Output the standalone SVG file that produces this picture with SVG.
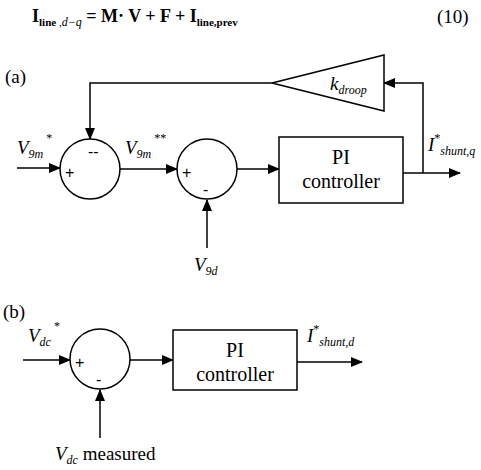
<svg xmlns="http://www.w3.org/2000/svg" width="481" height="470" viewBox="0 0 481 470" font-family="'Liberation Serif','Times New Roman',serif">
<style>
text{font-family:"Liberation Serif","Times New Roman",serif;fill:#000}
.ln{stroke:#000;stroke-width:1.5;fill:none}
.blk{stroke:#000;stroke-width:1.5;fill:#fff}
.it{font-style:italic}
.lbl{font-size:19px}
.sub{font-size:12px}
.sg{font-size:16px;font-family:"Liberation Sans",Arial,sans-serif}
.box{font-size:20px;text-anchor:middle}
</style>
<defs>
<marker id="ah" markerWidth="12" markerHeight="10" refX="11" refY="5" orient="auto" markerUnits="userSpaceOnUse">
<path d="M0,0 L12,5 L0,10 Z" fill="#000"/>
</marker>
</defs>

<g id="equation">
<text x="32" y="22" font-size="18" font-weight="bold">I<tspan font-size="11" dy="4">line </tspan><tspan font-size="11" font-weight="normal">,</tspan><tspan font-size="12" font-weight="normal" font-style="italic">d−q</tspan><tspan dy="-4"> = M· V + F + I</tspan><tspan font-size="11" dy="4">line,prev</tspan></text>
<text x="437" y="23" font-size="19">(10)</text>
</g>

<g id="labels">
<text x="5" y="83" font-size="19">(a)</text>
<text x="3" y="318" font-size="19">(b)</text>
</g>

<g id="connectors">
<!-- (a) -->
<line class="ln" x1="17" y1="168" x2="60" y2="168" marker-end="url(#ah)"/>
<line class="ln" x1="120" y1="169" x2="177" y2="169" marker-end="url(#ah)"/>
<line class="ln" x1="237" y1="169" x2="279" y2="169" marker-end="url(#ah)"/>
<line class="ln" x1="403" y1="173" x2="460" y2="173" marker-end="url(#ah)"/>
<polyline class="ln" points="423,173 423,83 384,83" marker-end="url(#ah)"/>
<polyline class="ln" points="272,83 90,83 90,139" marker-end="url(#ah)"/>
<line class="ln" x1="207" y1="248" x2="207" y2="200" marker-end="url(#ah)"/>
<!-- (b) -->
<line class="ln" x1="23" y1="360" x2="70" y2="360" marker-end="url(#ah)"/>
<line class="ln" x1="130" y1="360" x2="173" y2="360" marker-end="url(#ah)"/>
<line class="ln" x1="297" y1="362" x2="362" y2="362" marker-end="url(#ah)"/>
<line class="ln" x1="100" y1="438" x2="100" y2="390" marker-end="url(#ah)"/>
</g>

<g id="sum1">
<circle class="blk" cx="90" cy="169" r="30"/>
<text class="sg" x="65" y="178">+</text>
<text class="sg" x="88" y="157">--</text>
</g>
<g id="sum2">
<circle class="blk" cx="207" cy="169" r="30"/>
<text class="sg" x="182" y="178">+</text>
<text class="sg" x="203" y="195">-</text>
</g>
<g id="droop">
<polygon class="blk" points="384,55 384,111 272,83"/>
<text class="lbl it" x="330" y="90">k<tspan class="sub" dy="4">droop</tspan></text>
</g>
<g id="pi_a">
<rect class="blk" x="279" y="137" width="124" height="66"/>
<text class="box" x="341" y="164">PI</text>
<text class="box" x="341" y="188">controller</text>
</g>
<g id="sum_b">
<circle class="blk" cx="100" cy="359" r="30"/>
<text class="sg" x="75" y="368">+</text>
<text class="sg" x="96" y="385">-</text>
</g>
<g id="pi_b">
<rect class="blk" x="173" y="330" width="124" height="60"/>
<text class="box" x="235" y="357">PI</text>
<text class="box" x="235" y="381">controller</text>
</g>

<g id="signal_labels">
<text class="lbl it" x="17" y="154">V<tspan class="sub" dy="4">9m</tspan><tspan font-size="12" font-style="normal" dy="-16"> *</tspan></text>
<text class="lbl it" x="125" y="154">V<tspan class="sub" dy="4">9m</tspan><tspan font-size="12" font-style="normal" dy="-16"> **</tspan></text>
<text class="lbl it" x="194" y="271">V<tspan class="sub" dy="4">9d</tspan></text>
<text class="lbl it" x="428" y="151">I<tspan font-size="12" font-style="normal" dy="-9">*</tspan><tspan class="sub" dy="13">shunt,q</tspan></text>
<text class="lbl it" x="28" y="342">V<tspan class="sub" dy="4">dc</tspan><tspan font-size="12" font-style="normal" dy="-16"> *</tspan></text>
<text class="lbl it" x="307" y="342">I<tspan font-size="12" font-style="normal" dy="-9">*</tspan><tspan class="sub" dy="13">shunt,d</tspan></text>
<text class="lbl" x="55" y="460"><tspan font-style="italic">V</tspan><tspan class="sub it" dy="4">dc</tspan><tspan dy="-4"> measured</tspan></text>
</g>
</svg>
